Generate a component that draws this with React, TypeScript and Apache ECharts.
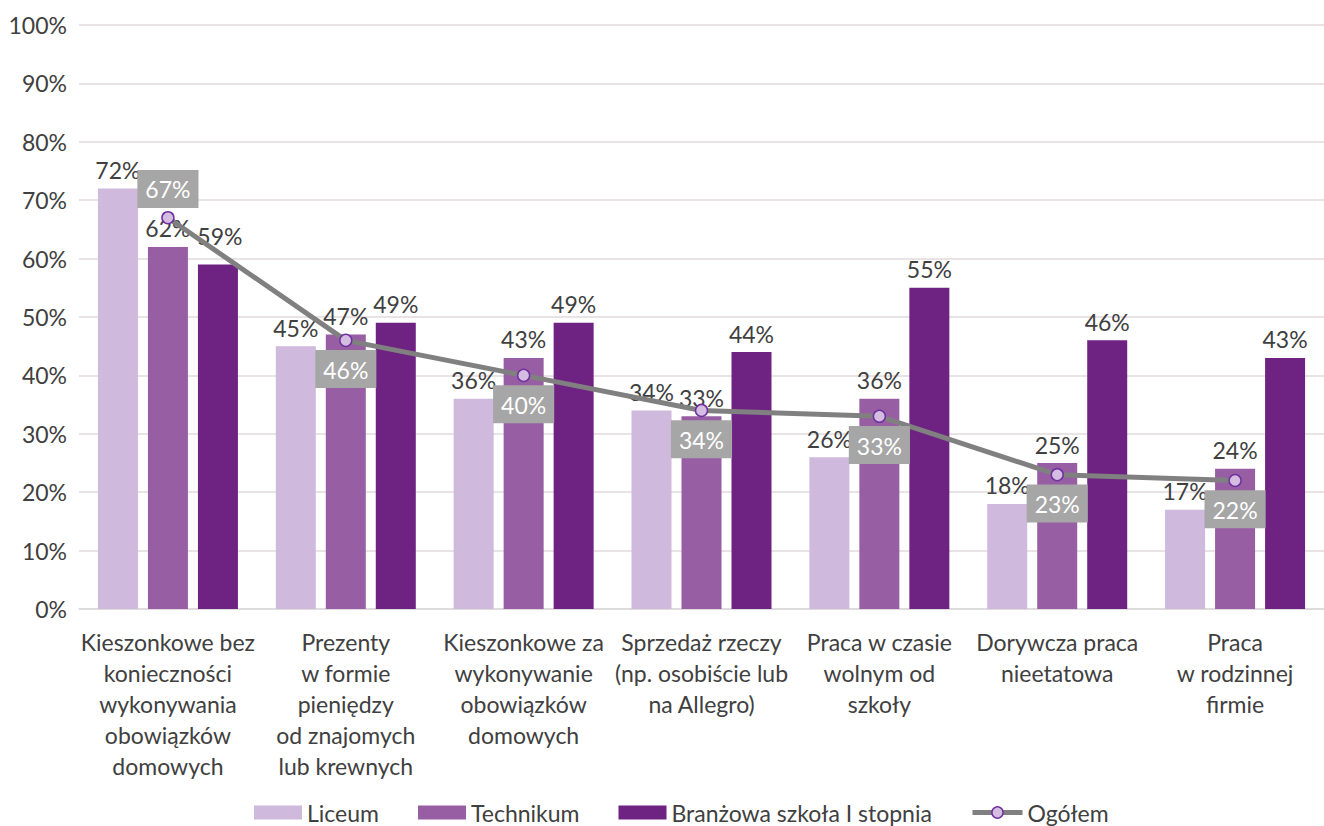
import React, { useEffect, useRef } from "react";
import * as echarts from "echarts";

const categories = [
  "Kieszonkowe bez\nkonieczności\nwykonywania\nobowiązków\ndomowych",
  "Prezenty\nw formie\npieniędzy\nod znajomych\nlub krewnych",
  "Kieszonkowe za\nwykonywanie\nobowiązków\ndomowych",
  "Sprzedaż rzeczy\n(np. osobiście lub\nna Allegro)",
  "Praca w czasie\nwolnym od\nszkoły",
  "Dorywcza praca\nnieetatowa",
  "Praca\nw rodzinnej\nfirmie",
];
const liceum = [72, 45, 36, 34, 26, 18, 17];
const technikum = [62, 47, 43, 33, 36, 25, 24];
const branzowa = [59, 49, 49, 44, 55, 46, 43];
const ogolem = [67, 46, 40, 34, 33, 23, 22];
const seriesNames = ["Liceum", "Technikum", "Branżowa szkoła I stopnia", "Ogółem"];

const FONT = "Lato";
const FS = 23;
const TXT = "#404040";

export default function App() {
  const ref = useRef<HTMLDivElement>(null);
  useEffect(() => {
    if (!ref.current) return;
    const chart = echarts.init(ref.current, null, { renderer: "svg" });
    const barLabel = {
      show: true,
      position: "top",
      distance: 7,
      formatter: "{c}%",
      color: TXT,
      fontFamily: FONT,
      fontSize: FS,
    };
    const mkBar = (name: string, data: any[], color: string) => ({
      name,
      type: "bar",
      data,
      barWidth: 40,
      barGap: "25%",
      itemStyle: { color },
      label: barLabel,
    });
    const branzData = branzowa.map((v, i) =>
      i === 0 ? { value: v, label: { offset: [2, -10] } } : v
    );
    const legendText = { color: TXT, fontFamily: FONT, fontSize: FS };
    chart.setOption({
      animation: false,
      textStyle: { fontFamily: FONT },
      grid: { left: 79, width: 1257, top: 25, bottom: 217, containLabel: false },
      legend: [
        {
          top: 796,
          left: 249,
          itemWidth: 48,
          itemHeight: 14,
          itemGap: 39,
          textStyle: legendText,
          data: [
            { name: seriesNames[0], icon: "rect" },
            { name: seriesNames[1], icon: "rect" },
            { name: seriesNames[2], icon: "rect" },
          ],
        },
        {
          top: 796,
          left: 965,
          itemWidth: 50,
          itemHeight: 14,
          textStyle: legendText,
          data: [
            {
              name: seriesNames[3],
              lineStyle: { color: "#808080", width: 5 },
              itemStyle: { color: "#D4BDE0", borderColor: "#7030A0", borderWidth: 1.5 },
            },
          ],
        },
      ],
      xAxis: {
        type: "category",
        data: categories,
        axisLine: { lineStyle: { color: "#D9D9D9", width: 1.5 } },
        axisTick: { show: false },
        axisLabel: {
          interval: 0,
          color: TXT,
          fontFamily: FONT,
          fontSize: FS,
          lineHeight: 31,
          margin: 17,
        },
      },
      yAxis: {
        type: "value",
        min: 0,
        max: 100,
        interval: 10,
        axisLabel: {
          formatter: "{value}%",
          color: TXT,
          fontFamily: FONT,
          fontSize: FS,
          margin: 12,
        },
        splitLine: { lineStyle: { color: "#E2DADE", width: 1.5 } },
        axisLine: { show: false },
        axisTick: { show: false },
      },
      series: [
        mkBar(seriesNames[0], liceum, "#CFB9DC"),
        mkBar(seriesNames[1], technikum, "#975EA3"),
        mkBar(seriesNames[2], branzData, "#6E2382"),
        {
          name: seriesNames[3],
          type: "line",
          data: ogolem.map((v, i) =>
            i === 0 ? { value: v, label: { position: "top" } } : v
          ),
          symbol: "circle",
          symbolSize: 12,
          lineStyle: { color: "#808080", width: 5 },
          itemStyle: { color: "#D4BDE0", borderColor: "#7030A0", borderWidth: 1.5 },
          label: {
            show: true,
            position: "bottom",
            distance: 3,
            formatter: "{c}%",
            color: "#FFFFFF",
            fontFamily: FONT,
            fontSize: FS,
            backgroundColor: "#A6A6A6",
            padding: [8, 8, 7, 8],
          },
          z: 5,
        },
      ],
    });
    return () => chart.dispose();
  }, []);
  return (
    <div
      ref={ref}
      style={{ position: "absolute", left: 0, top: 0, width: 1324, height: 826, background: "#fff" }}
    />
  );
}
